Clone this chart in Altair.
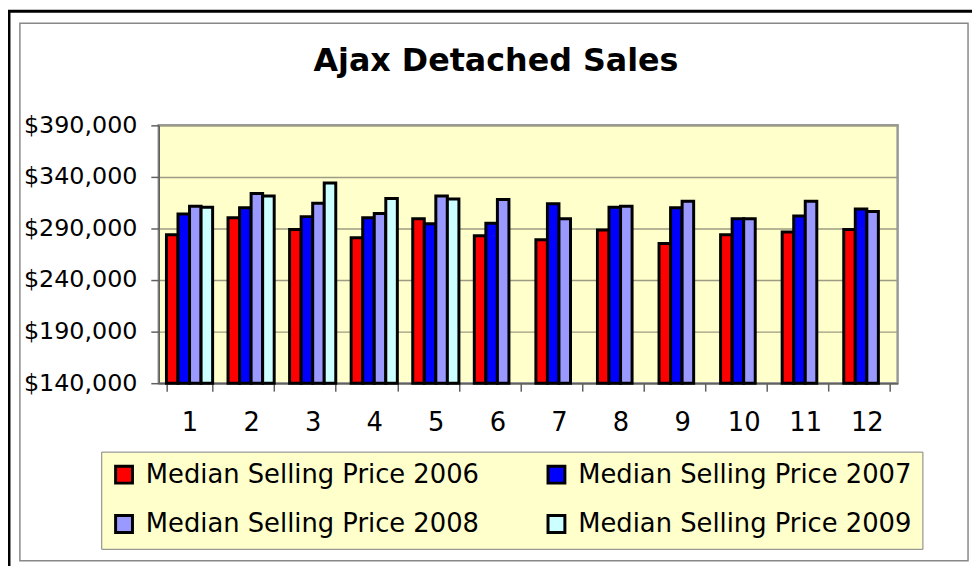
import altair as alt
import pandas as pd

TITLE = "Ajax Detached Sales"
MONTHS = [1, 2, 3, 4, 5, 6, 7, 8, 9, 10, 11, 12]
SERIES = [
    "Median Selling Price 2006",
    "Median Selling Price 2007",
    "Median Selling Price 2008",
    "Median Selling Price 2009",
]
COLORS = ["#FF0000", "#0000FF", "#9999FF", "#CCFFFF"]
P2006 = [284000, 300500, 289000, 281000, 299500, 283000, 279000, 288500, 275500, 284000, 286500, 289000]
P2007 = [304000, 310000, 301500, 300500, 294500, 295000, 314000, 310500, 310000, 299500, 302000, 309000]
P2008 = [311500, 324000, 314500, 304500, 321500, 318000, 299500, 311500, 316500, 299500, 316500, 306500]
P2009 = [310500, 321500, 334000, 319000, 318500, None, None, None, None, None, None, None]
Y_TICKS = [140000, 190000, 240000, 290000, 340000, 390000]

rows = []
for name, vals in zip(SERIES, [P2006, P2007, P2008, P2009]):
    for m, v in zip(MONTHS, vals):
        if v is not None:
            rows.append({"month": m, "series": name, "value": v})
df = pd.DataFrame(rows)

# legend fills column by column: order entries so rows read 2006/2007 then 2008/2009
LEGEND_ORDER = [SERIES[0], SERIES[2], SERIES[1], SERIES[3]]
LEGEND_COLORS = [COLORS[SERIES.index(s)] for s in LEGEND_ORDER]

FONT = "DejaVu Sans"
W, H = 745, 260
one = pd.DataFrame({"a": [0]})

black_frame = alt.Chart(one).mark_rect(fill=None, stroke="black", strokeWidth=3).encode(
    x=alt.value(-151), x2=alt.value(840), y=alt.value(-115), y2=alt.value(470)
)
gray_frame = alt.Chart(one).mark_rect(fill=None, stroke="#888888", strokeWidth=1.5).encode(
    x=alt.value(-140), x2=alt.value(816), y=alt.value(-103), y2=alt.value(439)
)

bars = alt.Chart(df).mark_bar(stroke="black", strokeWidth=3, opacity=1).encode(
    x=alt.X(
        "month:O",
        sort=MONTHS,
        scale=alt.Scale(paddingInner=0.25, paddingOuter=0.125),
        axis=alt.Axis(
            title=None,
            labelAngle=0,
            labelFont=FONT,
            labelFontSize=26,
            labelColor="black",
            labelPadding=19,
            tickBand="extent",
            tickSize=8,
            tickColor="#606060",
            tickWidth=1.5,
            domainColor="#606060",
            domainWidth=1.5,
            grid=False,
        ),
    ),
    xOffset=alt.XOffset(
        "series:N", sort=SERIES, scale=alt.Scale(domain=SERIES, paddingInner=0, paddingOuter=0)
    ),
    y=alt.Y(
        "value:Q",
        scale=alt.Scale(domain=[140000, 390000], nice=False, zero=False),
        axis=alt.Axis(
            title=None,
            values=Y_TICKS,
            format="$,.0f",
            labelFont=FONT,
            labelFontSize=24,
            labelColor="black",
            labelPadding=14,
            tickSize=8,
            tickColor="#606060",
            tickWidth=1.5,
            domainColor="#606060",
            domainWidth=1.5,
            grid=True,
            gridColor="#9c9c84",
            gridWidth=1.5,
        ),
    ),
    y2=alt.datum(140000),
    color=alt.Color(
        "series:N",
        scale=alt.Scale(domain=LEGEND_ORDER, range=LEGEND_COLORS),
        legend=alt.Legend(
            title=None,
            orient="none",
            legendX=-58,
            legendY=329,
            columns=2,
            symbolType="square",
            symbolSize=289,
            symbolStrokeColor="black",
            symbolStrokeWidth=3,
            symbolOpacity=1,
            labelFont=FONT,
            labelFontSize=26,
            labelColor="black",
            labelLimit=600,
            labelOffset=9,
            fillColor="#FFFFCC",
            strokeColor="#808080",
            padding=10,
            rowPadding=20,
            columnPadding=62,
        ),
    ),
)

title = alt.Chart(pd.DataFrame({"t": [TITLE]})).mark_text(
    font=FONT, fontSize=32, fontWeight="bold", color="black", align="center", baseline="alphabetic"
).encode(text="t:N", x=alt.value(340), y=alt.value(-55))

chart = (
    alt.layer(black_frame, gray_frame, bars, title)
    .properties(
        width=W,
        height=H,
        autosize=alt.AutoSizeParams(type="none"),
        padding={"left": 152, "top": 116, "right": 75, "bottom": 182},
        background="white",
    )
    .configure_view(fill="#FFFFCC", stroke="#999999", strokeWidth=2.5)
)

chart.save("out.html", embed_options={"renderer": "svg", "actions": False})
